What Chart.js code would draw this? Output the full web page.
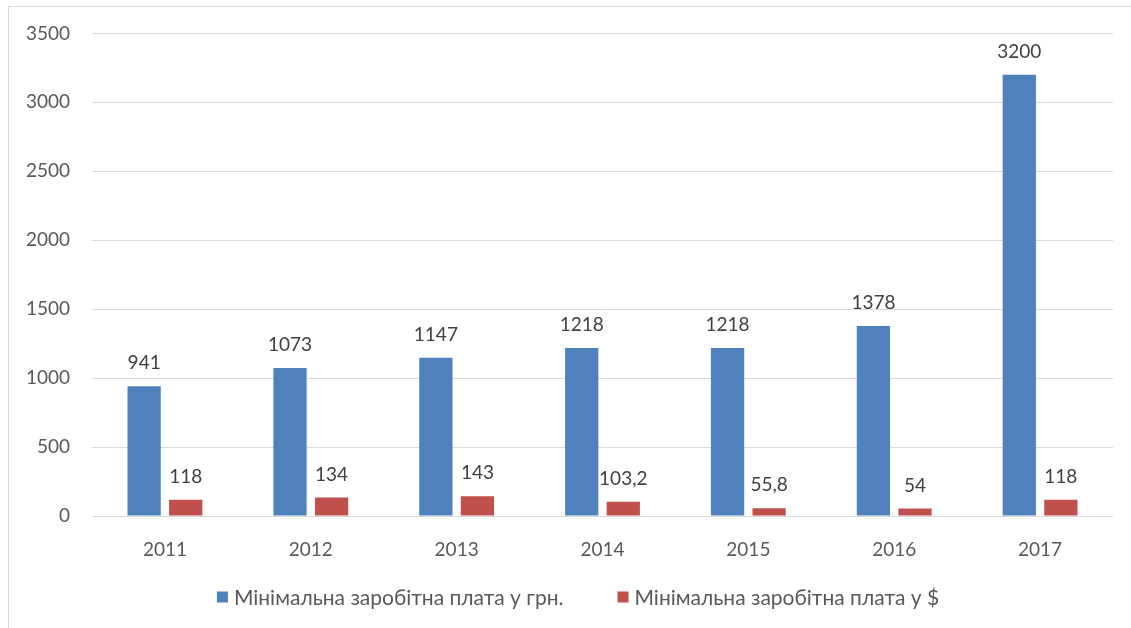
<!DOCTYPE html>
<html>
<head>
<meta charset="utf-8">
<script src="https://cdn.jsdelivr.net/npm/chart.js@4"></script>
<style>
  html, body { margin: 0; padding: 0; background: #fff; }
  #frame { position: absolute; left: 8px; top: 6px; width: 1140px; height: 640px; border: 1px solid #d9d9d9; }
  #wrap { position: absolute; left: 0; top: 0; width: 1131px; height: 628px; }
</style>
</head>
<body>
<div id="frame"></div>
<div id="wrap"><canvas id="chart"></canvas></div>
<script>
// дані
const years = ['2011', '2012', '2013', '2014', '2015', '2016', '2017'];
const wageUah = [941, 1073, 1147, 1218, 1218, 1378, 3200];
const wageUsd = [118, 134, 143, 103.2, 55.8, 54, 118];
const seriesNames = ['Мінімальна заробітна плата у грн.', 'Мінімальна заробітна плата у $'];

const FONT = 'Lato, "Open Sans", sans-serif';

// підписи значень над стовпцями
const valueLabels = {
  id: 'valueLabels',
  afterDatasetsDraw(chart) {
    const ctx = chart.ctx;
    ctx.save();
    ctx.font = '19px ' + FONT;
    ctx.fillStyle = '#404040';
    ctx.textAlign = 'center';
    ctx.textBaseline = 'middle';
    chart.data.datasets.forEach((ds, i) => {
      chart.getDatasetMeta(i).data.forEach((bar, j) => {
        const txt = String(ds.data[j]).replace('.', ',');
        ctx.fillText(txt, bar.x, bar.y - 23);
      });
    });
    ctx.restore();
  }
};

// легенда внизу
const bottomLegend = {
  id: 'bottomLegend',
  afterDraw(chart) {
    const ctx = chart.ctx;
    const sq = 11, gap = 6, itemGap = 54, y = 597, center = 578;
    ctx.save();
    ctx.font = '21px ' + FONT;
    ctx.textBaseline = 'middle';
    const items = chart.data.datasets.map(ds => ({
      text: ds.label, color: ds.backgroundColor, w: ctx.measureText(ds.label).width
    }));
    let total = items.reduce((s, it) => s + sq + gap + it.w, 0) + itemGap * (items.length - 1);
    let x = center - total / 2;
    items.forEach(it => {
      ctx.fillStyle = it.color;
      ctx.fillRect(x, y - sq / 2, sq, sq);
      ctx.fillStyle = '#595959';
      ctx.fillText(it.text, x + sq + gap, y + 1);
      x += sq + gap + it.w + itemGap;
    });
    ctx.restore();
  }
};

new Chart(document.getElementById('chart').getContext('2d'), {
  type: 'bar',
  data: {
    labels: years,
    datasets: [
      { label: seriesNames[0], data: wageUah, backgroundColor: '#4F81BD', categoryPercentage: 0.57, barPercentage: 0.8 },
      { label: seriesNames[1], data: wageUsd, backgroundColor: '#C0504D', categoryPercentage: 0.57, barPercentage: 0.8 }
    ]
  },
  options: {
    responsive: true,
    maintainAspectRatio: false,
    animation: false,
    layout: { padding: { left: 0, right: 18, top: 33, bottom: 62 } },
    plugins: {
      legend: { display: false },
      tooltip: { enabled: false }
    },
    scales: {
      x: {
        grid: { display: false },
        border: { display: false },
        ticks: { color: '#595959', font: { family: FONT, size: 19 }, padding: 14 },
        afterFit(scale) { scale.height = 50; }
      },
      y: {
        min: 0, max: 3500,
        ticks: {
          stepSize: 500, color: '#595959', font: { family: FONT, size: 19 }, padding: 22,
          callback: v => String(v)
        },
        grid: { color: '#d9d9d9', lineWidth: 1, drawTicks: false },
        border: { display: false },
        afterFit(scale) { scale.width = 92; }
      }
    }
  },
  plugins: [valueLabels, bottomLegend]
});
</script>
</body>
</html>
